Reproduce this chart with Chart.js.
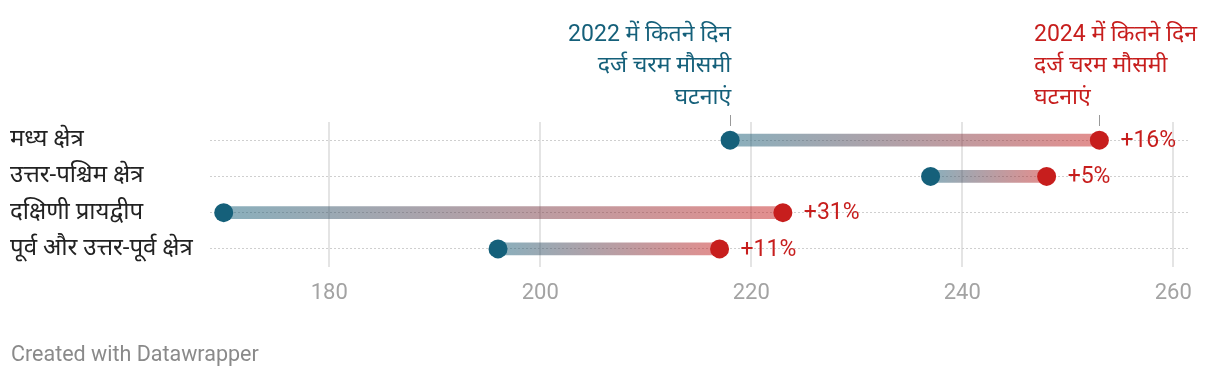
<!DOCTYPE html>
<html>
<head>
<meta charset="utf-8">
<script src="https://cdn.jsdelivr.net/npm/chart.js@4/dist/chart.umd.min.js"></script>
<style>
  html,body{margin:0;padding:0;background:#fff;}
  #wrap{position:relative;width:1220px;height:378px;}
  canvas{position:absolute;left:0;top:0;}
  #foot{position:absolute;left:11px;top:342px;font:21.5px/24px Roboto, "Noto Sans", sans-serif;color:#8a8a8a;white-space:nowrap;}
</style>
</head>
<body>
<div id="wrap">
  <canvas id="c" width="1220" height="378"></canvas>
  <div id="foot">Created with Datawrapper</div>
</div>
<script>
const categories = ['मध्य क्षेत्र', 'उत्तर-पश्चिम क्षेत्र', 'दक्षिणी प्रायद्वीप', 'पूर्व और उत्तर-पूर्व क्षेत्र'];
const days2022 = [218, 237, 170, 196];
const days2024 = [253, 248, 223, 217];
const xTicks = [180, 200, 220, 240, 260];
const label2022 = ['2022 में कितने दिन', 'दर्ज चरम मौसमी', 'घटनाएं'];
const label2024 = ['2024 में कितने दिन', 'दर्ज चरम मौसमी', 'घटनाएं'];

const BLUE = '#15607a';
const RED = '#c71e1d';
const FONT = 'Roboto, "Noto Sans Devanagari", "Noto Sans", sans-serif';

function barGradient(ctx) {
  const chart = ctx.chart;
  if (!chart.chartArea || ctx.dataIndex === undefined) return 'rgba(150,150,150,0.5)';
  const xs = chart.scales.x;
  const i = ctx.dataIndex;
  const x0 = xs.getPixelForValue(days2022[i]);
  const x1 = xs.getPixelForValue(days2024[i]);
  const g = chart.ctx.createLinearGradient(x0, 0, x1, 0);
  g.addColorStop(0, 'rgba(21,96,122,0.5)');
  g.addColorStop(1, 'rgba(199,30,29,0.5)');
  return g;
}

const overlay = {
  id: 'overlay',
  afterDraw(chart) {
    const {ctx, scales: {x}} = chart;
    ctx.save();
    // percent labels
    const redMeta = chart.getDatasetMeta(1);
    ctx.font = '23px ' + FONT;
    ctx.fillStyle = RED;
    ctx.textAlign = 'left';
    ctx.textBaseline = 'middle';
    categories.forEach((c, i) => {
      const p = redMeta.data[i];
      const pct = Math.round((days2024[i] / days2022[i] - 1) * 100);
      ctx.fillText('+' + pct + '%', p.x + 21, p.y + 1);
    });
    // annotations
    const bx = x.getPixelForValue(days2022[0]);
    const rx = x.getPixelForValue(days2024[0]);
    ctx.font = '23px ' + FONT;
    ctx.fillStyle = BLUE;
    ctx.textAlign = 'right';
    label2022.forEach((t, i) => ctx.fillText(t, bx + 1, 35 + i * 31.5));
    ctx.fillStyle = RED;
    ctx.textAlign = 'left';
    const maxW = Math.max(...label2024.map(t => ctx.measureText(t).width));
    const left = Math.min(rx, 1197 - maxW);
    label2024.forEach((t, i) => ctx.fillText(t, left, 35 + i * 31.5));
    ctx.strokeStyle = '#999';
    ctx.lineWidth = 1;
    ctx.beginPath();
    ctx.moveTo(Math.round(bx) + 0.5, 115); ctx.lineTo(Math.round(bx) + 0.5, 126);
    ctx.moveTo(Math.round(rx) + 0.5, 115); ctx.lineTo(Math.round(rx) + 0.5, 126);
    ctx.stroke();
    ctx.restore();
  }
};

new Chart(document.getElementById('c'), {
  type: 'bar',
  data: {
    labels: categories,
    datasets: [
      {
        type: 'line', label: '2022', order: 1, showLine: false, clip: false,
        data: categories.map((c, i) => ({x: days2022[i], y: c})),
        pointRadius: 9.5, pointBackgroundColor: BLUE, pointBorderWidth: 0, borderColor: BLUE
      },
      {
        type: 'line', label: '2024', order: 1, showLine: false, clip: false,
        data: categories.map((c, i) => ({x: days2024[i], y: c})),
        pointRadius: 9.5, pointBackgroundColor: RED, pointBorderWidth: 0, borderColor: RED
      },
      {
        type: 'bar', label: 'range', order: 5, indexAxis: 'y',
        data: categories.map((c, i) => [days2022[i], days2024[i]]),
        backgroundColor: barGradient, barThickness: 12, borderSkipped: false, borderWidth: 0
      }
    ]
  },
  options: {
    indexAxis: 'y',
    responsive: false,
    animation: false,
    events: [],
    layout: {padding: {left: 10, right: 32, top: 122, bottom: 71}},
    plugins: {legend: {display: false}, tooltip: {enabled: false}},
    scales: {
      x: {
        type: 'linear', min: 168.7, max: 261.4,
        afterBuildTicks(scale) { scale.ticks = xTicks.map(v => ({value: v})); },
        afterFit(scale) { scale.height = 40; },
        grid: {color: '#e4e4e4', lineWidth: 2, drawTicks: false},
        border: {display: false},
        ticks: {color: '#a3a3a3', font: {family: FONT, size: 22}, padding: 13}
      },
      y: {
        type: 'category',
        afterFit(scale) { scale.width = 200; },
        grid: {color: '#cfcfcf', lineWidth: 1, offset: false, drawTicks: false},
        border: {display: false, dash: [2, 2]},
        ticks: {color: '#222', font: {family: FONT, size: 24}, crossAlign: 'far', padding: 0}
      }
    }
  },
  plugins: [overlay]
});
</script>
</body>
</html>
